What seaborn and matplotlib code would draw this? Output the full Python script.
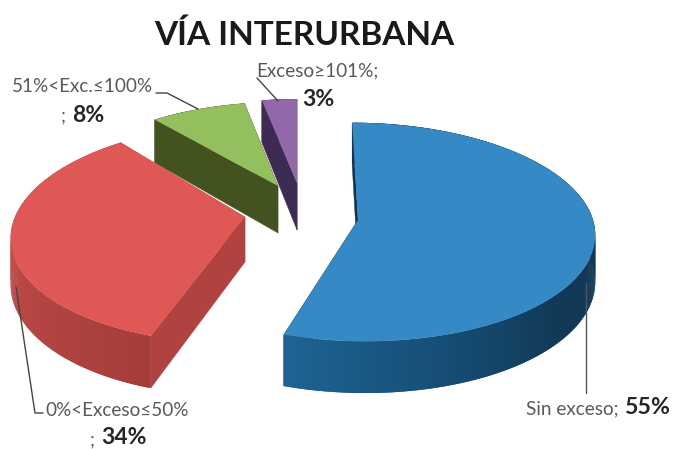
import numpy as np
import matplotlib
matplotlib.use('Agg')
import matplotlib.pyplot as plt
from matplotlib.transforms import Transform
import seaborn as sns

# Data
labels = ['Sin exceso', '0%<Exceso≤50%', '51%<Exc.≤100%', 'Exceso≥101%']
sizes = [55, 34, 8, 3]
colors = ['#3589c5', '#df5856', '#93bf5c', '#9368aa']
radial_colors = ['#0f3350', '#b0433f', '#43531f', '#3e2b54']
wall_stops = [['#0f3350', '#0f3350', '#113a58', '#1d6394'],
              ['#a53d3a', '#c04b48', '#cf5351'],
              ['#43531f', '#43531f'],
              ['#3e2b54', '#3e2b54']]

# hub x, hub y, a, b, shear, perspective, depth of each slice in pixels
geometry = [(358, 220, 235, 108, -6.5, 0.11, 46),
            (245, 217, 230, 107.5, 10.5, 0.147, 45),
            (278, 186, 215, 94, 3, 0.12, 47),
            (297, 183, 210, 94, 0, 0.12, 47)]
draw_order = [3, 2, 0, 1]

sns.set_theme(style='white')
plt.rcParams['font.family'] = ['Lato', 'DejaVu Sans']


def project(g, u, v, z=0.0):
    hx, hy, a, b, s, k, d = g
    w = 1 + k * v
    return hx + (a * u + s * v) / w, hy + (-b * v + d * z) / w


class Perspective(Transform):
    input_dims = 2
    output_dims = 2

    def __init__(self, g):
        super().__init__()
        self.g = g

    def transform_non_affine(self, values):
        values = np.asarray(values, dtype=float)
        x, y = project(self.g, values[:, 0], values[:, 1])
        return np.column_stack([x, y])


fig, ax = plt.subplots(figsize=(6.73, 4.49), dpi=100)
fig.subplots_adjust(left=0, right=1, top=1, bottom=0)

wedges, _ = ax.pie(sizes, colors=colors, startangle=90, counterclock=False,
                   wedgeprops={'linewidth': 0})
ax.set_aspect('auto')
ax.set_xlim(0, 673)
ax.set_ylim(449, 0)
ax.axis('off')

edges = np.cumsum([0] + sizes) / sum(sizes) * 360
for rank, i in enumerate(draw_order):
    g = geometry[i]
    base = 2 + rank * 2
    t0, t1 = np.radians(edges[i]), np.radians(edges[i + 1])

    # flat side faces from the hub out to each end of the arc
    for t in (t0, t1):
        u, v = np.sin(t), np.cos(t)
        x0, y0 = project(g, 0, 0)
        x1, y1 = project(g, u, v)
        x2, y2 = project(g, u, v, 1)
        x3, y3 = project(g, 0, 0, 1)
        ax.fill([x0, x1, x2, x3], [y0, y1, y2, y3], color=radial_colors[i],
                lw=0.3, zorder=base)

    # outer rim, in thin strips that overlap so no seams show
    n = max(int(edges[i + 1] - edges[i]) * 2, 4)
    shades = sns.blend_palette(wall_stops[i], n)
    angles = np.linspace(t0, t1, n + 1)
    for j in range(n):
        u = np.sin(angles[j:j + 3])
        v = np.cos(angles[j:j + 3])
        xa, ya = project(g, u, v)
        xb, yb = project(g, u, v, 1)
        ax.fill(np.r_[xa, xb[::-1]], np.r_[ya, yb[::-1]], color=shades[j],
                lw=0, zorder=base)

    wedges[i].set_transform(Perspective(g) + ax.transData)
    wedges[i].set_zorder(base + 1)

# Leader lines
line_color = '#444444'
ax.plot([586, 586], [283, 393], color='#555555', lw=1, zorder=20)
ax.plot([16, 35, 43], [287, 413, 413], color=line_color, lw=1, zorder=20)
ax.plot([156, 167, 198], [93, 93, 109], color=line_color, lw=1, zorder=20)
ax.plot([257, 278], [78, 101], color=line_color, lw=1, zorder=20)

# Text
grey = '#595959'
dark = '#262626'
small = 13.6
big = 16.6
ax.text(304, 35, 'VÍA INTERURBANA', ha='center', va='center', fontsize=24,
        fontweight='bold', color='#1a1a1a')
ax.text(12, 87, labels[2], ha='left', va='center', fontsize=small, color=grey)
ax.text(61, 116, ';', ha='left', va='center', fontsize=small, color=grey)
ax.text(72, 115, f'{sizes[2]}%', ha='left', va='center', fontsize=big,
        fontweight='bold', color=dark)
ax.text(256, 71, labels[3] + ';', ha='left', va='center', fontsize=small, color=grey)
ax.text(302, 99, f'{sizes[3]}%', ha='left', va='center', fontsize=big,
        fontweight='bold', color=dark)
ax.text(526, 409, labels[0] + ';', ha='left', va='center', fontsize=small, color=grey)
ax.text(625, 408, f'{sizes[0]}%', ha='left', va='center', fontsize=big,
        fontweight='bold', color=dark)
ax.text(45, 411, labels[1], ha='left', va='center', fontsize=small, color=grey)
ax.text(90, 440, ';', ha='left', va='center', fontsize=small, color=grey)
ax.text(101, 438, f'{sizes[1]}%', ha='left', va='center', fontsize=big,
        fontweight='bold', color=dark)

fig.savefig('out.png', dpi=100, facecolor='white')
